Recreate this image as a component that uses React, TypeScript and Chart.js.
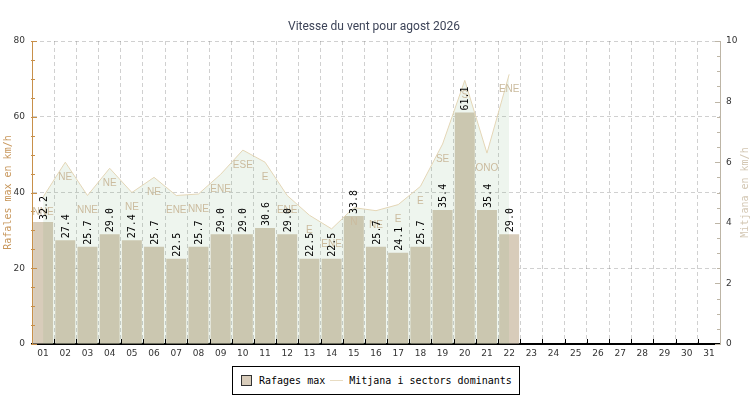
import React, { useEffect, useRef } from 'react';
import { Chart, registerables } from 'chart.js';

Chart.register(...registerables);

const days = ['01', '02', '03', '04', '05', '06', '07', '08', '09', '10', '11', '12', '13', '14', '15', '16',
  '17', '18', '19', '20', '21', '22', '23', '24', '25', '26', '27', '28', '29', '30', '31'];

// rafales max (km/h), left axis
const gusts = [32.2, 27.4, 25.7, 29.0, 27.4, 25.7, 22.5, 25.7, 29.0, 29.0, 30.6, 29.0, 22.5, 22.5, 33.8, 25.7,
  24.1, 25.7, 35.4, 61.1, 35.4, 29.0, null, null, null, null, null, null, null, null, null];

// mitjana (km/h), right axis
const meanWind = [4.85, 6.0, 4.9, 5.8, 5.0, 5.5, 4.9, 4.95, 5.6, 6.4, 6.0, 4.9, 4.25, 3.8, 4.5, 4.4,
  4.6, 5.2, 6.6, 8.7, 6.3, 8.9, null, null, null, null, null, null, null, null, null];

const sectors = ['NNE', 'NE', 'NNE', 'NE', 'NE', 'NE', 'ENE', 'NNE', 'ENE', 'ESE', 'E', 'ENE', 'E', 'ENE', 'N', 'NE',
  'E', 'E', 'SE', 'S', 'ONO', 'ENE'];

const leftTicks = [0, 20, 40, 60, 80];
const rightTicks = [0, 2, 4, 6, 8, 10];

const TITLE = 'Vitesse du vent pour agost 2026';
const MONO = '"DejaVu Sans Mono", monospace';
const SANS = '"DejaVu Sans", sans-serif';

const decorPlugin = {
  id: 'decor',
  afterDraw(chart: any) {
    const { ctx, chartArea: a, scales } = chart;
    const y = scales.y;
    const y1 = scales.y1;
    ctx.save();

    // title
    ctx.fillStyle = '#3d4458';
    ctx.font = '12px Roboto, sans-serif';
    ctx.textAlign = 'center';
    ctx.textBaseline = 'middle';
    ctx.fillText(TITLE, 374, 27);

    // inward ticks, left axis
    ctx.lineWidth = 1;
    ctx.strokeStyle = '#c8904a';
    for (let v = 0; v <= 80; v += 5) {
      const py = Math.round(y.getPixelForValue(v)) + 0.5;
      const len = v % 20 === 0 ? 5 : 3;
      ctx.beginPath();
      ctx.moveTo(a.left - 1, py);
      ctx.lineTo(a.left + len, py);
      ctx.stroke();
    }
    // inward ticks, right axis
    ctx.strokeStyle = '#bdb5a6';
    for (let v = 0; v <= 10; v += 0.5) {
      const py = Math.round(y1.getPixelForValue(v)) + 0.5;
      const len = v % 2 === 0 ? 5 : 3;
      ctx.beginPath();
      ctx.moveTo(a.right + 1, py);
      ctx.lineTo(a.right - len, py);
      ctx.stroke();
    }
    // x ticks at category boundaries
    ctx.strokeStyle = '#000';
    const step = (a.right - a.left) / days.length;
    for (let i = 1; i < days.length; i++) {
      const px = Math.round(a.left + i * step) + 0.5;
      ctx.beginPath();
      ctx.moveTo(px, a.bottom);
      ctx.lineTo(px, a.bottom - 5);
      ctx.stroke();
    }

    // right axis title, reading bottom to top
    ctx.save();
    ctx.translate(745, (a.top + a.bottom) / 2);
    ctx.rotate(-Math.PI / 2);
    ctx.fillStyle = '#d2c6b2';
    ctx.font = '10px ' + MONO;
    ctx.fillText('Mitjana en km/h', 0, 0);
    ctx.restore();

    // dominant sectors under line points
    const lineMeta = chart.getDatasetMeta(1);
    ctx.font = '10px "Liberation Sans", sans-serif';
    ctx.fillStyle = '#cbbb9e';
    ctx.textAlign = 'center';
    ctx.textBaseline = 'top';
    lineMeta.data.forEach((pt: any, i: number) => {
      if (meanWind[i] == null || !sectors[i]) return;
      ctx.fillText(sectors[i], pt.x, pt.y + 10);
    });

    // bar values, vertical
    const barMeta = chart.getDatasetMeta(0);
    ctx.font = '10px ' + MONO;
    ctx.fillStyle = '#000';
    ctx.textAlign = 'left';
    ctx.textBaseline = 'middle';
    barMeta.data.forEach((bar: any, i: number) => {
      const v = gusts[i];
      if (v == null) return;
      ctx.save();
      ctx.translate(bar.x + 1, bar.y - 2);
      ctx.rotate(-Math.PI / 2);
      ctx.fillText(v.toFixed(1), 0, 0);
      ctx.restore();
    });

    ctx.restore();
  },
};

const App: React.FC = () => {
  const canvasRef = useRef<HTMLCanvasElement>(null);
  const chartRef = useRef<Chart | null>(null);

  useEffect(() => {
    document.body.style.margin = '0';
    if (!canvasRef.current) return;
    if (chartRef.current) chartRef.current.destroy();

    const gridColor = 'rgba(120,120,120,0.35)';

    chartRef.current = new Chart(canvasRef.current, {
      type: 'bar',
      data: {
        labels: days,
        datasets: [
          {
            type: 'bar',
            label: 'Rafages max',
            data: gusts,
            yAxisID: 'y',
            backgroundColor: '#d8ccba',
            borderWidth: 0,
            barPercentage: 0.9,
            categoryPercentage: 1.0,
            order: 2,
          },
          {
            type: 'line',
            label: 'Mitjana i sectors dominants',
            data: meanWind,
            yAxisID: 'y1',
            borderColor: '#e4d6b6',
            borderWidth: 1,
            backgroundColor: 'rgba(90,160,90,0.1)',
            fill: 'start',
            tension: 0,
            pointRadius: 0,
            spanGaps: false,
            order: 1,
          },
        ] as any,
      },
      options: {
        animation: false,
        responsive: false,
        maintainAspectRatio: false,
        layout: { padding: { top: 41, bottom: 36, left: 0, right: 0 } },
        plugins: {
          legend: { display: false },
          tooltip: { enabled: false },
          title: { display: false },
        },
        scales: {
          x: {
            z: 1,
            offset: true,
            grid: { offset: true, color: gridColor, drawTicks: false },
            border: { color: '#000', width: 2, dash: [4, 3] },
            ticks: { autoSkip: false, maxRotation: 0, padding: 4, color: '#333', font: { family: SANS, size: 9 } },
            afterFit: (s: any) => { s.height = 20; },
          },
          y: {
            z: 1,
            position: 'left',
            min: 0,
            max: 80,
            afterBuildTicks: (s: any) => { s.ticks = leftTicks.map((v) => ({ value: v })); },
            grid: { color: gridColor, drawTicks: false },
            border: { color: '#c8904a', width: 1, dash: [4, 3] },
            ticks: { padding: 7, color: '#333', font: { family: SANS, size: 9 } },
            title: {
              display: true,
              text: 'Rafales max en km/h',
              color: '#c8975c',
              font: { family: MONO, size: 10, lineHeight: 1 },
              padding: { top: 3, bottom: 0 },
            },
            afterFit: (s: any) => { s.width = 32; },
          },
          y1: {
            z: 1,
            position: 'right',
            min: 0,
            max: 10,
            afterBuildTicks: (s: any) => { s.ticks = rightTicks.map((v) => ({ value: v })); },
            grid: { display: false, drawTicks: false },
            border: { color: '#bdb5a6', width: 1 },
            ticks: { padding: 6, color: '#333', font: { family: SANS, size: 9 } },
            afterFit: (s: any) => { s.width = 30; },
          },
        },
      },
      plugins: [decorPlugin],
    });

    return () => {
      if (chartRef.current) {
        chartRef.current.destroy();
        chartRef.current = null;
      }
    };
  }, []);

  return (
    <div style={{ position: 'relative', width: 750, height: 400, background: '#fff' }}>
      <canvas ref={canvasRef} width={750} height={400} style={{ display: 'block' }}></canvas>
      <div
        style={{
          position: 'absolute', left: 232, top: 366, width: 288, height: 29,
          border: '1px solid #000', background: '#fff', boxSizing: 'border-box',
          fontFamily: MONO, fontSize: 10, color: '#000',
          display: 'flex', alignItems: 'center',
        }}
      >
        <span style={{ display: 'inline-block', width: 9, height: 9, marginLeft: 8, background: '#d8ccba', border: '1px solid #333' }}></span>
        <span style={{ marginLeft: 7 }}>Rafages max</span>
        <span style={{ display: 'inline-block', width: 13, height: 1, marginLeft: 5, background: '#e8dcc2' }}></span>
        <span style={{ marginLeft: 6 }}>Mitjana i sectors dominants</span>
      </div>
    </div>
  );
};

export default App;
